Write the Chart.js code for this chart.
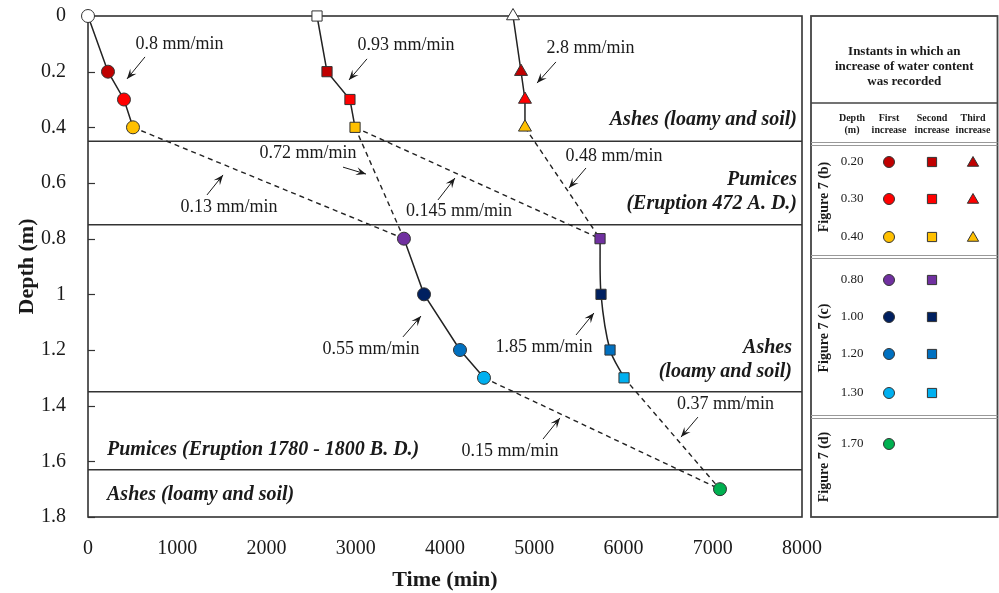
<!DOCTYPE html>
<html><head><meta charset="utf-8">
<script src="https://cdn.jsdelivr.net/npm/chart.js@4.4.1/dist/chart.umd.min.js"></script>
<style>html,body{margin:0;padding:0;background:#fff;}#c{display:block;}</style>
</head><body>
<canvas id="c" width="999" height="593"></canvas>
<script>
// ---------- data ----------
const xTickLabels = ['0','1000','2000','3000','4000','5000','6000','7000','8000'];
const yTickLabels = ['0','0.2','0.4','0.6','0.8','1','1.2','1.4','1.6','1.8'];

const depthsUpper = [0, 0.2, 0.3, 0.4];
const firstUpperTime = [0, 224, 403, 504];
const secondUpperTime = [2566, 2678, 2935, 2992];
const thirdUpperTime = [4762, 4852, 4896, 4896];

const depthsLower = [0.8, 1.0, 1.2, 1.3];
const firstLowerTime = [3540, 3765, 4168, 4437];
const secondLowerTime = [5737, 5748, 5849, 6006];

const deepDepth = [1.7];
const deepTime = [7081];

const colorsUpper = ['#ffffff', '#C00000', '#FF0000', '#FFC000'];
const colorsLower = ['#7030A0', '#002060', '#0070C0', '#00B0F0'];
const colorDeep = ['#00B050'];

const layerBoundaries = [0.45, 0.75, 1.35, 1.63];

const rateTexts = ['0.8 mm/min','0.93 mm/min','2.8 mm/min','0.72 mm/min','0.48 mm/min','0.145 mm/min','0.13 mm/min','0.55 mm/min','1.85 mm/min','0.37 mm/min','0.15 mm/min'];
// label centre and arrow (from -> to) in data units
const rateAnchors = [
  {tx:1025, ty:0.100, ax:639,  ay:0.147, bx:437,  by:0.226},
  {tx:3563, ty:0.104, ax:3126, ay:0.154, bx:2924, by:0.230},
  {tx:5630, ty:0.115, ax:5243, ay:0.165, bx:5031, by:0.241},
  {tx:2465, ty:0.492, ax:2857, ay:0.543, bx:3115, by:0.568},
  {tx:5893, ty:0.503, ax:5580, ay:0.546, bx:5389, by:0.618},
  {tx:4157, ty:0.701, ax:3921, ay:0.661, bx:4112, by:0.582},
  {tx:1580, ty:0.686, ax:1333, ay:0.643, bx:1513, by:0.571},
  {tx:3171, ty:1.196, ax:3529, ay:1.153, bx:3731, by:1.078},
  {tx:5109, ty:1.189, ax:5468, ay:1.146, bx:5669, by:1.067},
  {tx:7142, ty:1.394, ax:6834, ay:1.441, bx:6644, by:1.513},
  {tx:4728, ty:1.563, ax:5098, ay:1.520, bx:5288, by:1.444}
];

const layerTexts = [
  {text:'Ashes (loamy and soil)', x:7944, y:0.374, align:'right'},
  {text:'Pumices', x:7944, y:0.589, align:'right'},
  {text:'(Eruption 472 A. D.)', x:7944, y:0.675, align:'right'},
  {text:'Ashes', x:7888, y:1.193, align:'right'},
  {text:'(loamy and soil)', x:7888, y:1.279, align:'right'},
  {text:'Pumices (Eruption 1780 - 1800 B. D.)', x:213, y:1.559, align:'left'},
  {text:'Ashes (loamy and soil)', x:213, y:1.721, align:'left'}
];

const legendDepthLabels = ['0.20','0.30','0.40','0.80','1.00','1.20','1.30','1.70'];
const legendGroups = ['Figure 7 (b)','Figure 7 (c)','Figure 7 (d)'];

// ---------- build ----------
const SERIF = "'Liberation Serif', 'Times New Roman', serif";
const pts = (xs, ys) => xs.map((x, i) => ({x: x, y: ys[i]}));
const firstUpper = pts(firstUpperTime, depthsUpper);
const secondUpper = pts(secondUpperTime, depthsUpper);
const thirdUpper = pts(thirdUpperTime, depthsUpper);
const firstLower = pts(firstLowerTime, depthsLower);
const secondLower = pts(secondLowerTime, depthsLower);
const deep = pts(deepTime, deepDepth);

const dashed = (a, b) => ({
  data: [a, b], showLine: true, pointRadius: 0, borderColor: '#222', borderWidth: 1.4,
  borderDash: [5, 4], clip: false, order: 10
});
const solid = (data, style, colors, r, tension) => ({
  data: data, showLine: true, borderColor: '#222', borderWidth: 1.5, tension: tension || 0,
  pointStyle: style, pointRadius: r, pointHoverRadius: r,
  pointBackgroundColor: colors, pointBorderColor: '#333', pointBorderWidth: 1, clip: false, order: 1
});

const datasets = [
  solid(firstUpper, 'circle', colorsUpper, 6.5),
  solid(secondUpper, 'rect', colorsUpper, 7.2),
  solid(thirdUpper, 'triangle', colorsUpper, 7.5),
  solid(firstLower, 'circle', colorsLower, 6.5),
  solid(secondLower, 'rect', colorsLower, 7.2, 0.3),
  solid(deep, 'circle', colorDeep, 6.5),
  dashed(firstUpper[3], firstLower[0]),
  dashed(secondUpper[3], firstLower[0]),
  dashed(secondUpper[3], secondLower[0]),
  dashed(thirdUpper[3], secondLower[0]),
  dashed(firstLower[3], deep[0]),
  dashed(secondLower[3], deep[0])
];

function arrow(ctx, x1, y1, x2, y2) {
  ctx.beginPath(); ctx.moveTo(x1, y1); ctx.lineTo(x2, y2); ctx.stroke();
  const ang = Math.atan2(y2 - y1, x2 - x1), L = 10, W = 4;
  ctx.beginPath();
  ctx.moveTo(x2, y2);
  ctx.lineTo(x2 - L*Math.cos(ang) + W*Math.sin(ang), y2 - L*Math.sin(ang) - W*Math.cos(ang));
  ctx.lineTo(x2 - 0.6*L*Math.cos(ang), y2 - 0.6*L*Math.sin(ang));
  ctx.lineTo(x2 - L*Math.cos(ang) - W*Math.sin(ang), y2 - L*Math.sin(ang) + W*Math.cos(ang));
  ctx.closePath(); ctx.fill();
}

const overlay = {
  id: 'overlay',
  beforeDatasetsDraw(chart) {
    const {ctx, chartArea: a, scales: {x, y}} = chart;
    ctx.save();
    ctx.strokeStyle = '#333';
    ctx.lineWidth = 1.2;
    y.ticks.forEach(t => {
      const py = Math.round(y.getPixelForValue(t.value)) + 0.5;
      ctx.beginPath(); ctx.moveTo(a.left, py); ctx.lineTo(a.left + 7, py); ctx.stroke();
    });
    ctx.lineWidth = 1.6;
    layerBoundaries.forEach(d => {
      const py = y.getPixelForValue(d);
      ctx.beginPath(); ctx.moveTo(a.left, py); ctx.lineTo(a.right, py); ctx.stroke();
    });
    ctx.strokeRect(a.left, a.top, a.right - a.left, a.bottom - a.top);
    ctx.fillStyle = '#1a1a1a';
    ctx.font = 'italic bold 20px ' + SERIF;
    ctx.textBaseline = 'middle';
    layerTexts.forEach(l => {
      ctx.textAlign = l.align;
      ctx.fillText(l.text, x.getPixelForValue(l.x), y.getPixelForValue(l.y));
    });
    ctx.restore();
  },
  afterDatasetsDraw(chart) {
    const {ctx, scales: {x, y}} = chart;
    ctx.save();
    ctx.fillStyle = '#1a1a1a'; ctx.strokeStyle = '#1a1a1a'; ctx.lineWidth = 1;
    ctx.font = '18px ' + SERIF;
    ctx.textAlign = 'center'; ctx.textBaseline = 'middle';
    rateTexts.forEach((t, i) => {
      const r = rateAnchors[i];
      ctx.fillText(t, x.getPixelForValue(r.tx), y.getPixelForValue(r.ty));
      arrow(ctx, x.getPixelForValue(r.ax), y.getPixelForValue(r.ay), x.getPixelForValue(r.bx), y.getPixelForValue(r.by));
    });
    ctx.restore();
  },
  afterDraw(chart) {
    const {ctx, chartArea: a} = chart;
    const L = a.right + 9, R = 997.5, T = a.top, B = a.bottom;
    ctx.save();
    ctx.strokeStyle = '#444'; ctx.lineWidth = 1.8;
    ctx.strokeRect(L, T, R - L, B - T);
    ctx.lineWidth = 1.4;
    ctx.beginPath(); ctx.moveTo(L, 103); ctx.lineTo(R, 103); ctx.stroke();
    ctx.strokeStyle = '#999'; ctx.lineWidth = 1;
    [142.5, 255.5, 415.5].forEach(yy => {
      ctx.beginPath(); ctx.moveTo(L, yy); ctx.lineTo(R, yy); ctx.stroke();
      ctx.beginPath(); ctx.moveTo(L, yy + 3); ctx.lineTo(R, yy + 3); ctx.stroke();
    });
    const cx = (L + R) / 2;
    ctx.fillStyle = '#1a1a1a'; ctx.textAlign = 'center'; ctx.textBaseline = 'middle';
    ctx.font = 'bold 13px ' + SERIF;
    ['Instants in which an', 'increase of water content', 'was recorded'].forEach((s, i) => ctx.fillText(s, cx, 52 + i * 15));
    const colX = [852, 889, 932, 973];
    ctx.font = 'bold 10px ' + SERIF;
    [['Depth','(m)'], ['First','increase'], ['Second','increase'], ['Third','increase']].forEach((c, i) => {
      ctx.fillText(c[0], colX[i], 118); ctx.fillText(c[1], colX[i], 130);
    });
    const rowY = [162, 199, 237, 280, 317, 354, 393, 444];
    ctx.font = '13px ' + SERIF;
    legendDepthLabels.forEach((s, i) => ctx.fillText(s, colX[0], rowY[i]));
    const draw = (style, r, color, px, py) => {
      ctx.fillStyle = color; ctx.strokeStyle = '#333'; ctx.lineWidth = 1;
      Chart.helpers.drawPoint(ctx, {pointStyle: style, radius: r, rotation: 0, borderWidth: 1}, px, py);
    };
    for (let i = 0; i < 3; i++) {
      draw('circle', 5.5, colorsUpper[i + 1], colX[1], rowY[i]);
      draw('rect', 6.5, colorsUpper[i + 1], colX[2], rowY[i]);
      draw('triangle', 6.5, colorsUpper[i + 1], colX[3], rowY[i] + 1);
    }
    for (let i = 0; i < 4; i++) {
      draw('circle', 5.5, colorsLower[i], colX[1], rowY[i + 3]);
      draw('rect', 6.5, colorsLower[i], colX[2], rowY[i + 3]);
    }
    draw('circle', 5.5, colorDeep[0], colX[1], rowY[7]);
    ctx.fillStyle = '#1a1a1a';
    ctx.font = 'bold 14px ' + SERIF;
    const gy = [197, 338, 467];
    legendGroups.forEach((g, i) => {
      ctx.save(); ctx.translate(824, gy[i]); ctx.rotate(-Math.PI / 2);
      ctx.fillText(g, 0, 0); ctx.restore();
    });
    ctx.restore();
  }
};

new Chart(document.getElementById('c'), {
  type: 'scatter',
  data: {datasets: datasets},
  options: {
    responsive: false, animation: false, devicePixelRatio: 1,
    layout: {padding: {top: 16, right: 197, left: 0, bottom: 0}},
    plugins: {legend: {display: false}, tooltip: {enabled: false}},
    scales: {
      x: {
        type: 'linear', min: 0, max: 8000,
        grid: {display: false, drawTicks: false}, border: {display: false},
        ticks: {stepSize: 1000, padding: 20, color: '#1a1a1a', font: {family: SERIF, size: 20},
          callback: v => xTickLabels[Math.round(v / 1000)]},
        title: {display: true, text: 'Time (min)', color: '#1a1a1a', padding: {top: 0, bottom: -1},
          font: {family: SERIF, size: 22, weight: 'bold'}},
        afterFit: s => { s.height = 76; s.paddingLeft = 0; s.paddingRight = 0; }
      },
      y: {
        type: 'linear', min: 0, max: 1.8, reverse: true,
        grid: {display: false, drawTicks: false}, border: {display: false},
        ticks: {stepSize: 0.2, padding: 22, color: '#1a1a1a', font: {family: SERIF, size: 20},
          callback: v => yTickLabels[Math.round(v / 0.2)]},
        title: {display: true, text: 'Depth (m)', color: '#1a1a1a', padding: {top: 14, bottom: 0},
          font: {family: SERIF, size: 22, weight: 'bold'}},
        afterFit: s => { s.width = 88; s.paddingTop = 0; s.paddingBottom = 0; }
      }
    }
  },
  plugins: [overlay]
});
</script>
</body></html>
